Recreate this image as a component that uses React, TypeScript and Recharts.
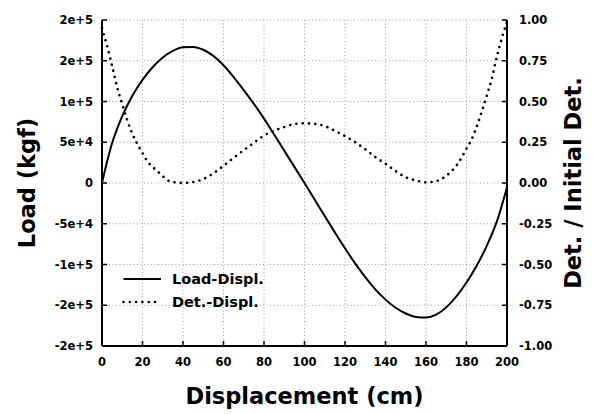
import React from "react";
import { LineChart, Line, XAxis, YAxis, CartesianGrid, Legend } from "recharts";

// displacement (cm) where the load curve was read
const loadX = [
  0, 2.5, 5, 7.5, 10, 15, 20, 25, 30, 35, 40, 45, 50, 55, 60, 65, 70, 75, 80, 85, 90, 95, 100,
  105, 110, 115, 120, 125, 130, 135, 140, 145, 150, 155, 160, 165, 170, 175, 180, 185, 190, 195,
  200,
];
// load (kgf)
const loadKgf = [
  0, 26000, 49000, 66600, 82000, 107000, 126500, 142000, 154000, 162000, 166500, 167000, 163500,
  156000, 144500, 130000, 114000, 97000, 79000, 59500, 39700, 19800, 0, -20300, -40600, -60600,
  -80100, -98600, -115600, -130600, -143100, -153100, -160100, -164300, -165100, -161600,
  -152600, -139100, -122100, -101600, -77100, -47100, -5100,
];

// displacement (cm) where the determinant ratio was read
const detX = [
  0, 1, 2.5, 5, 7.5, 10, 12.5, 15, 17.5, 20, 22.5, 25, 27.5, 30, 32.5, 35, 40, 45, 50, 55, 60, 65,
  70, 75, 80, 85, 90, 95, 100, 105, 110, 115, 120, 125, 130, 135, 140, 145, 150, 155, 160, 165,
  170, 172.5, 175, 177.5, 180, 182.5, 185, 187.5, 190, 192.5, 195, 197.5, 200,
];
// det. / initial det.
const detRatio = [
  0.95, 0.905, 0.843, 0.718, 0.587, 0.483, 0.384, 0.302, 0.238, 0.183, 0.131, 0.098, 0.071, 0.042,
  0.016, 0.006, 0, 0.006, 0.024, 0.059, 0.106, 0.154, 0.201, 0.246, 0.291, 0.321, 0.343, 0.361,
  0.366, 0.363, 0.349, 0.32, 0.288, 0.25, 0.207, 0.158, 0.118, 0.073, 0.035, 0.016, 0.004, 0.011,
  0.044, 0.071, 0.106, 0.154, 0.211, 0.267, 0.345, 0.436, 0.535, 0.64, 0.775, 0.89, 0.99,
];

const seriesNames = ["Load-Displ.", "Det.-Displ."];

const xTicks = [0, 20, 40, 60, 80, 100, 120, 140, 160, 180, 200];
const loadTicks = [-200000, -150000, -100000, -50000, 0, 50000, 100000, 150000, 200000];
const detTicks = [-1, -0.75, -0.5, -0.25, 0, 0.25, 0.5, 0.75, 1];

const loadData = loadX.map((x, i) => ({ x, load: loadKgf[i] }));
const detData = detX.map((x, i) => ({ x, det: detRatio[i] }));

const tickFont = { fontFamily: "DejaVu Sans", fontWeight: 700, fontSize: 11.5, fill: "#000" };
const titleFont = {
  fontFamily: "DejaVu Sans",
  fontWeight: 700,
  fontSize: 22.5,
  fill: "#000",
  textAnchor: "middle" as const,
};

const fmtLoad = (v: number) => (v === 0 ? "0" : v.toExponential(0));

const BottomTick = ({ x, y, payload }: any) => (
  <g>
    <line x1={x} y1={y} x2={x} y2={y - 5} stroke="#000" strokeWidth={1.5} />
    <text x={x} y={y + 20} textAnchor="middle" style={tickFont}>
      {payload.value}
    </text>
  </g>
);

const TopTick = ({ x, y }: any) => (
  <line x1={x} y1={y} x2={x} y2={y + 5} stroke="#000" strokeWidth={1.5} />
);

const LeftTick = ({ x, y, payload }: any) => (
  <g>
    <line x1={x} y1={y} x2={x + 5} y2={y} stroke="#000" strokeWidth={1.5} />
    <text x={x - 9} y={y + 4} textAnchor="end" style={tickFont}>
      {fmtLoad(payload.value)}
    </text>
  </g>
);

const RightTick = ({ x, y, payload }: any) => (
  <g>
    <line x1={x} y1={y} x2={x - 5} y2={y} stroke="#000" strokeWidth={1.5} />
    <text x={x + 12} y={y + 4} textAnchor="start" style={tickFont}>
      {Number(payload.value).toFixed(2)}
    </text>
  </g>
);

const LegendBox = ({ payload }: any) => {
  const items = [...(payload || [])].sort(
    (a: any, b: any) => seriesNames.indexOf(a.value) - seriesNames.indexOf(b.value)
  );
  return (
    <div style={{ fontFamily: "DejaVu Sans", fontWeight: 700, fontSize: 14.5, color: "#000" }}>
      {items.map((p: any) => {
        const dashed = p.value === seriesNames[1];
        return (
          <div key={p.value} style={{ display: "flex", alignItems: "center", height: 23.5 }}>
            <svg width={40} height={10}>
              <line
                x1={1.5}
                y1={5}
                x2={39}
                y2={5}
                stroke="#000"
                strokeWidth={dashed ? 2.6 : 2}
                strokeDasharray={dashed ? "0 6.3" : undefined}
                strokeLinecap={dashed ? "round" : "butt"}
              />
            </svg>
            <span style={{ marginLeft: 10 }}>{p.value}</span>
          </div>
        );
      })}
    </div>
  );
};

export default function App() {
  return (
    <div style={{ position: "absolute", left: 0, top: 0, background: "#fff" }}>
      <LineChart width={600} height={414} margin={{ top: 20, right: 0, bottom: 0, left: 0 }}>
        <CartesianGrid xAxisId="bottom" yAxisId="left" stroke="#a0a0a0" strokeDasharray="1 2.5" />
        <XAxis
          xAxisId="bottom"
          type="number"
          dataKey="x"
          domain={[0, 200]}
          ticks={xTicks}
          interval={0}
          height={68}
          tickSize={0}
          tickMargin={0}
          tickLine={false}
          tick={<BottomTick />}
          axisLine={{ stroke: "#000", strokeWidth: 2 }}
          label={{ value: "Displacement (cm)", position: "insideBottom", offset: 10, style: titleFont }}
        />
        <XAxis
          xAxisId="top"
          orientation="top"
          type="number"
          dataKey="x"
          domain={[0, 200]}
          allowDataOverflow
          ticks={xTicks}
          interval={0}
          height={0}
          tickSize={0}
          tickMargin={0}
          tickLine={false}
          tick={<TopTick />}
          axisLine={{ stroke: "#000", strokeWidth: 2 }}
        />
        <YAxis
          yAxisId="left"
          type="number"
          domain={[-200000, 200000]}
          ticks={loadTicks}
          interval={0}
          width={102}
          tickSize={0}
          tickMargin={0}
          tickLine={false}
          tick={<LeftTick />}
          axisLine={{ stroke: "#000", strokeWidth: 2 }}
          label={{ value: "Load (kgf)", angle: -90, position: "insideLeft", offset: 27, style: titleFont }}
        />
        <YAxis
          yAxisId="right"
          orientation="right"
          type="number"
          domain={[-1, 1]}
          ticks={detTicks}
          interval={0}
          width={93}
          tickSize={0}
          tickMargin={0}
          tickLine={false}
          tick={<RightTick />}
          axisLine={{ stroke: "#000", strokeWidth: 2 }}
          label={{
            value: "Det. / Initial Det.",
            angle: -90,
            position: "insideRight",
            offset: 27,
            style: titleFont,
          }}
        />
        <Legend
          layout="vertical"
          align="center"
          verticalAlign="middle"
          content={<LegendBox />}
          wrapperStyle={{ left: 122, top: 267, width: 180, height: 48 }}
        />
        <Line
          data={loadData}
          xAxisId="bottom"
          yAxisId="left"
          dataKey="load"
          name={seriesNames[0]}
          type="monotone"
          stroke="#000"
          strokeWidth={2}
          dot={false}
          activeDot={false}
          isAnimationActive={false}
        />
        <Line
          data={detData}
          xAxisId="bottom"
          yAxisId="right"
          dataKey="det"
          name={seriesNames[1]}
          type="monotone"
          stroke="#000"
          strokeWidth={2.7}
          strokeDasharray="0 6.3"
          strokeLinecap="round"
          dot={false}
          activeDot={false}
          isAnimationActive={false}
        />
      </LineChart>
    </div>
  );
}
